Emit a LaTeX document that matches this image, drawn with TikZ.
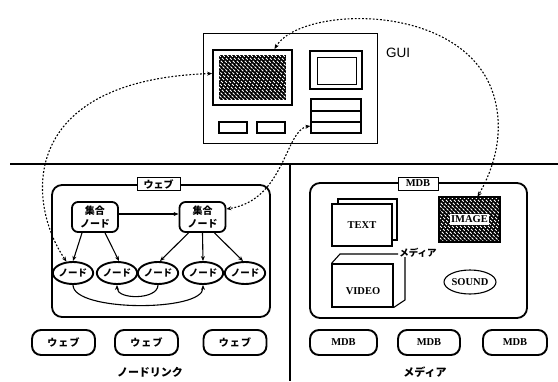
\documentclass[tikz,border=0pt]{standalone}
\usepackage{fontspec}
\setmainfont{Liberation Serif}
\newfontfamily\jp{Noto Sans CJK JP}
\newfontfamily\jpw{Noto Sans CJK JP}[LetterSpace=12]
\newfontfamily\guifont{Liberation Sans}
\usetikzlibrary{shapes.geometric,arrows.meta}
\tikzset{
  tipa/.style={-{Stealth[length=5pt,width=4pt]}},
  dotline/.style={line width=1.1pt, dash pattern=on 1.8pt off 1.8pt,
    {Stealth[length=5pt,width=4pt]}-{Stealth[length=5pt,width=4pt]}},
  thinbox/.style={draw, line width=1pt, inner sep=0pt, fill=white},
  thickbox/.style={draw, line width=1.8pt, inner sep=0pt, fill=white},
  roundbox/.style={draw, line width=1.8pt, inner sep=0pt, rounded corners=9pt},
  pnode/.style={draw, line width=1.8pt, inner sep=0pt, rounded corners=6pt,
    minimum width=46pt, minimum height=30pt, align=center,
    font=\jp\bfseries\fontsize{10}{12.5}\selectfont},
  enode/.style={draw, ellipse, line width=1.9pt, inner sep=0pt,
    minimum width=34pt, minimum height=22pt, font=\jp\bfseries\fontsize{9.5}{9.5}\selectfont},
  botbox/.style={draw, line width=1.9pt, inner sep=0pt, rounded corners=9pt,
    minimum height=25pt},
  jplabel/.style={font=\jpw\bfseries\fontsize{10}{11}\selectfont},
  latlabel/.style={font=\bfseries\fontsize{10.5}{12}\selectfont},
  hatchline/.style={white, line width=1pt, dash pattern=on 2.6pt off 1.5pt},
  plain/.style={line width=1.1pt}
}
\begin{document}
\begin{tikzpicture}[x=1pt,y=-1pt]
\fill[white] (0,0) rectangle (558,381);
\useasboundingbox (0,0) rectangle (558,381);

% ---------- GUI ----------
\node[draw, line width=1pt, inner sep=0pt, minimum width=174pt, minimum height=110pt] (gui) at (290,88) {};
\node[font=\guifont\fontsize{13.5}{14}\selectfont, anchor=center] (guilabel) at (398,53) {GUI};
\node[thickbox, minimum width=79pt, minimum height=55pt] (screen) at (252.5,77.5) {};
\node[inner sep=0pt, minimum width=67pt, minimum height=45pt] (screenhatch) at (252.5,77.5) {};
\begin{scope}
  \clip (screenhatch.north west) rectangle (screenhatch.south east);
  \fill[black] (screenhatch.north west) rectangle (screenhatch.south east);
  \foreach \k in {-52,-48,...,72} \draw[hatchline] (219+\k,55) -- ++(50,50);
\end{scope}
\node[thickbox, minimum width=52pt, minimum height=38pt] (monitor) at (336,70) {};
\node[thinbox, minimum width=39pt, minimum height=27pt] (monitorin) at (336.5,70.5) {};
\node[draw, line width=1.3pt, inner sep=0pt, minimum width=50pt, minimum height=34pt] (stack) at (336,116) {};
\draw[line width=1.2pt] (311,111) -- (361,111);
\draw[line width=1.2pt] (311,122) -- (361,122);
\node[thinbox, line width=1.3pt, minimum width=28pt, minimum height=11pt] (btnA) at (233,127.5) {};
\node[thinbox, line width=1.3pt, minimum width=28pt, minimum height=11pt] (btnB) at (271,127.5) {};

% ---------- dividers ----------
\draw[line width=2.4pt] (10,164) -- (558,164);
\draw[line width=2.4pt] (290,164) -- (290,381);

% ---------- left panel ----------
\node[roundbox, rounded corners=10pt, minimum width=218pt, minimum height=132pt] (web) at (161,251) {};
\node[thinbox, minimum width=43pt, minimum height=13pt, font=\jp\bfseries\fontsize{10}{11}\selectfont] (weblabel) at (158.5,184) {ウェブ};
\node[pnode] (p1) at (95,217) {集合\\ノード};
\node[pnode] (p2) at (202.5,217) {集合\\ノード};
\node[enode] (e1) at (73,273) {ノード};
\node[enode] (e2) at (117,273) {ノード};
\node[enode] (e3) at (158,273) {ノード};
\node[enode] (e4) at (203,273) {ノード};
\node[enode] (e5) at (245,273) {ノード};
\draw[plain, tipa] ([yshift=3pt]p1.east) -- ([yshift=3pt]p2.west);
\draw[plain, tipa] ([xshift=-13pt]p1.south) -- (e1.north);
\draw[plain, tipa] ([xshift=10pt]p1.south) -- ([xshift=2pt]e2.north);
\draw[plain, tipa] ([xshift=-14pt]p2.south) -- ([xshift=2pt]e3.north);
\draw[plain, tipa] (p2.south) -- (e4.north);
\draw[plain, tipa] ([xshift=12pt]p2.south) -- ([xshift=-2pt]e5.north);
\draw[plain, tipa] (e1.south) to[out=-90, in=-90, distance=27pt] (e4.south);
\draw[plain, tipa] (e3.south) to[out=-90, in=-90, distance=15pt] (e2.south);

\node[botbox, minimum width=63pt, jplabel] (w1) at (63.5,342.5) {ウェブ};
\node[botbox, minimum width=63pt, jplabel] (w2) at (146.5,342.5) {ウェブ};
\node[botbox, minimum width=63pt, jplabel] (w3) at (235,342.5) {ウェブ};
\node[font=\jp\bfseries\fontsize{11}{12}\selectfont] (nodelink) at (150,372) {ノードリンク};

% ---------- right panel ----------
\node[roundbox, rounded corners=10pt, minimum width=217pt, minimum height=135pt] (mdb) at (418.5,250.5) {};
\node[thinbox, minimum width=40pt, minimum height=13pt, latlabel] (mdblabel) at (418,183.5) {MDB};
\node[thinbox, line width=1.1pt, minimum width=59pt, minimum height=41pt] (textback) at (367.5,219.5) {};
\node[thinbox, line width=1.1pt, minimum width=60pt, minimum height=42pt, latlabel] (textpage) at (362,225) {TEXT};
\node[inner sep=0pt, minimum width=61pt, minimum height=45pt] (image) at (469.5,219.5) {};
\begin{scope}
  \clip (image.north west) rectangle (image.south east);
  \fill[black] (image.north west) rectangle (image.south east);
  \foreach \k in {-52,-48,...,68} \draw[hatchline] (439+\k,197) -- ++(50,50);
\end{scope}
\draw[line width=1.8pt] (image.north west) rectangle (image.south east);
\node[fill=white, inner sep=1.5pt, latlabel] (imagelabel) at (image.center) {IMAGE};
\node[thinbox, line width=1.1pt, minimum width=61pt, minimum height=43pt] (video) at (362.5,285.5) {};
\node[latlabel] (videolabel) at (363,291) {VIDEO};
\draw[line width=1.1pt] (video.north west) -- (340,254) -- (398,254);
\draw[line width=1.1pt] (405,257) -- (405,300) -- (video.south east);
\node[font=\jp\bfseries\fontsize{9.5}{10}\selectfont] (medialabel) at (418,253) {メディア};
\node[draw, ellipse, line width=1.1pt, inner sep=0pt, minimum width=48pt, minimum height=24pt, latlabel] (sound) at (470,282) {SOUND};

\node[botbox, minimum width=67pt, latlabel] (m1) at (343.5,342.5) {MDB};
\node[botbox, minimum width=62pt, latlabel] (m2) at (429,342.5) {MDB};
\node[botbox, minimum width=64pt, latlabel] (m3) at (515,342.5) {MDB};
\node[font=\jp\bfseries\fontsize{11}{12}\selectfont] (medialabel2) at (425,372) {メディア};

% ---------- dotted connectors ----------
\draw[dotline] ([yshift=4pt]screen.west) .. controls (20,80) and (25,200) .. (e1.120);
\draw[dotline] ([xshift=22pt]screen.north) .. controls (300,5) and (470,0) .. (495,100)
   .. controls (505,140) and (490,175) .. ([xshift=8pt]image.north);
\draw[dotline] ([yshift=-10pt]stack.west) .. controls (285,130) and (285,200) .. ([yshift=8pt]p2.east);
\end{tikzpicture}
\end{document}
